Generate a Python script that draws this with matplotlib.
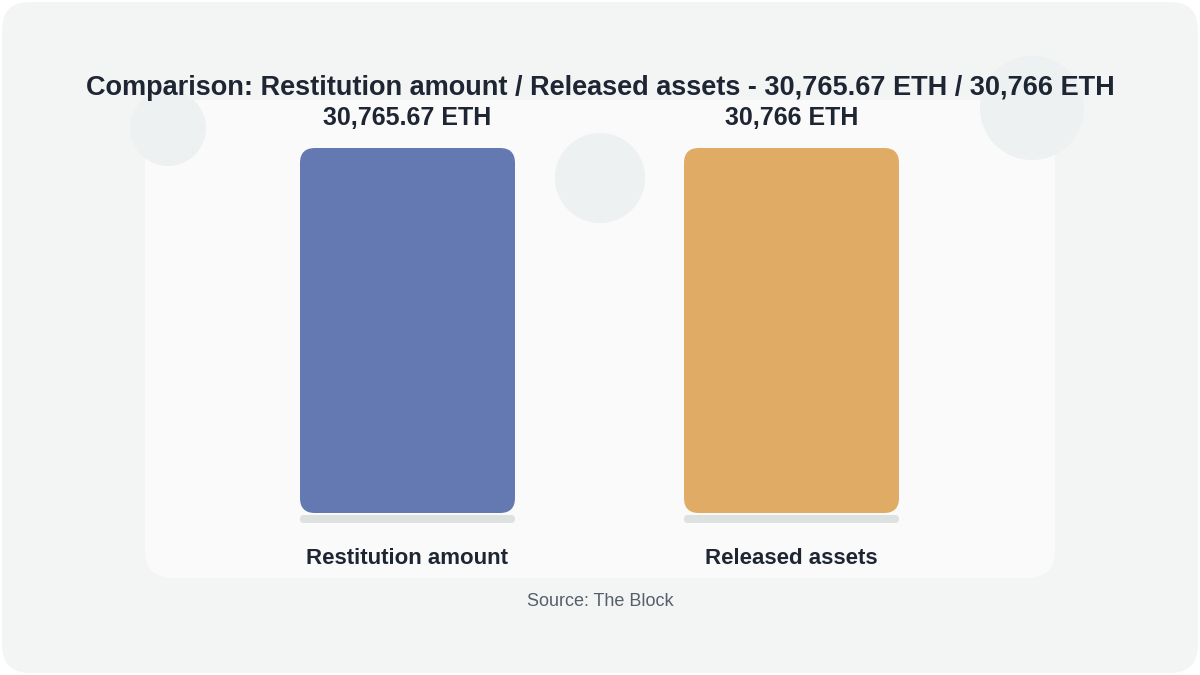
import matplotlib
matplotlib.use("Agg")
import matplotlib.pyplot as plt
from matplotlib.patches import FancyBboxPatch, Circle

categories = ["Restitution amount", "Released assets"]
values = [30765.67, 30766]
value_labels = ["30,765.67 ETH", "30,766 ETH"]
colors = ["#6479b1", "#e0ab65"]
title = "Comparison: Restitution amount / Released assets - 30,765.67 ETH / 30,766 ETH"
source = "Source: The Block"

plt.rcParams['font.family'] = ['Liberation Sans', 'DejaVu Sans']
W, H = 1200, 675
fig = plt.figure(figsize=(12, 6.75), dpi=100)
fig.patch.set_facecolor("white")
bg = fig.add_axes([0, 0, 1, 1]); bg.set_xlim(0, W); bg.set_ylim(H, 0); bg.axis("off")
bg.add_patch(FancyBboxPatch((2, 2), W-4, H-4, boxstyle="round,pad=0,rounding_size=28", fc="#f3f5f5", ec="none"))
bg.add_patch(FancyBboxPatch((145, 100), 910, 478, boxstyle="round,pad=0,rounding_size=28", fc="#fafafa", ec="none"))
for (cx, cy, r) in [(168, 128, 38), (600, 178, 45), (1032, 108, 52)]:
    bg.add_patch(Circle((cx, cy), r, fc="#eef1f1", ec="none"))
bg.text(600, 88, title, ha="center", va="center", fontsize=19.5, fontweight="bold", color="#1e2533")
bg.text(600, 601, source, ha="center", va="center", fontsize=13, color="#555e6a")

top_px, bot_px = 148, 513
ax = fig.add_axes([0, (H-bot_px)/H, 1, (bot_px-top_px)/H])
ax.axis("off")
ymax = max(values)
ax.set_ylim(0, ymax)
spacing, c0 = 384, 407.5
ax.set_xlim(-c0/spacing, (W-c0)/spacing)
bw = 215/spacing
ypp = ymax/(bot_px-top_px)
r = 15
for i, (v, c) in enumerate(zip(values, colors)):
    ax.add_patch(FancyBboxPatch((i-bw/2, -10*ypp), bw, 8*ypp, boxstyle=f"round,pad=0,rounding_size={4/spacing}",
                                mutation_aspect=ypp*spacing, fc="#dde2e0", ec="none", clip_on=False))
    ax.add_patch(FancyBboxPatch((i-bw/2, 0), bw, v, boxstyle=f"round,pad=0,rounding_size={r/spacing}",
                                mutation_aspect=ypp*spacing, fc=c, ec="none", clip_on=False))
    ax.text(i, v + 30*ypp, value_labels[i], ha="center", va="center", fontsize=18, fontweight="bold", color="#1e2533", clip_on=False)
    ax.text(i, -45*ypp, categories[i], ha="center", va="center", fontsize=16, fontweight="bold", color="#1e2533", clip_on=False)

fig.savefig("out.png", dpi=100)
